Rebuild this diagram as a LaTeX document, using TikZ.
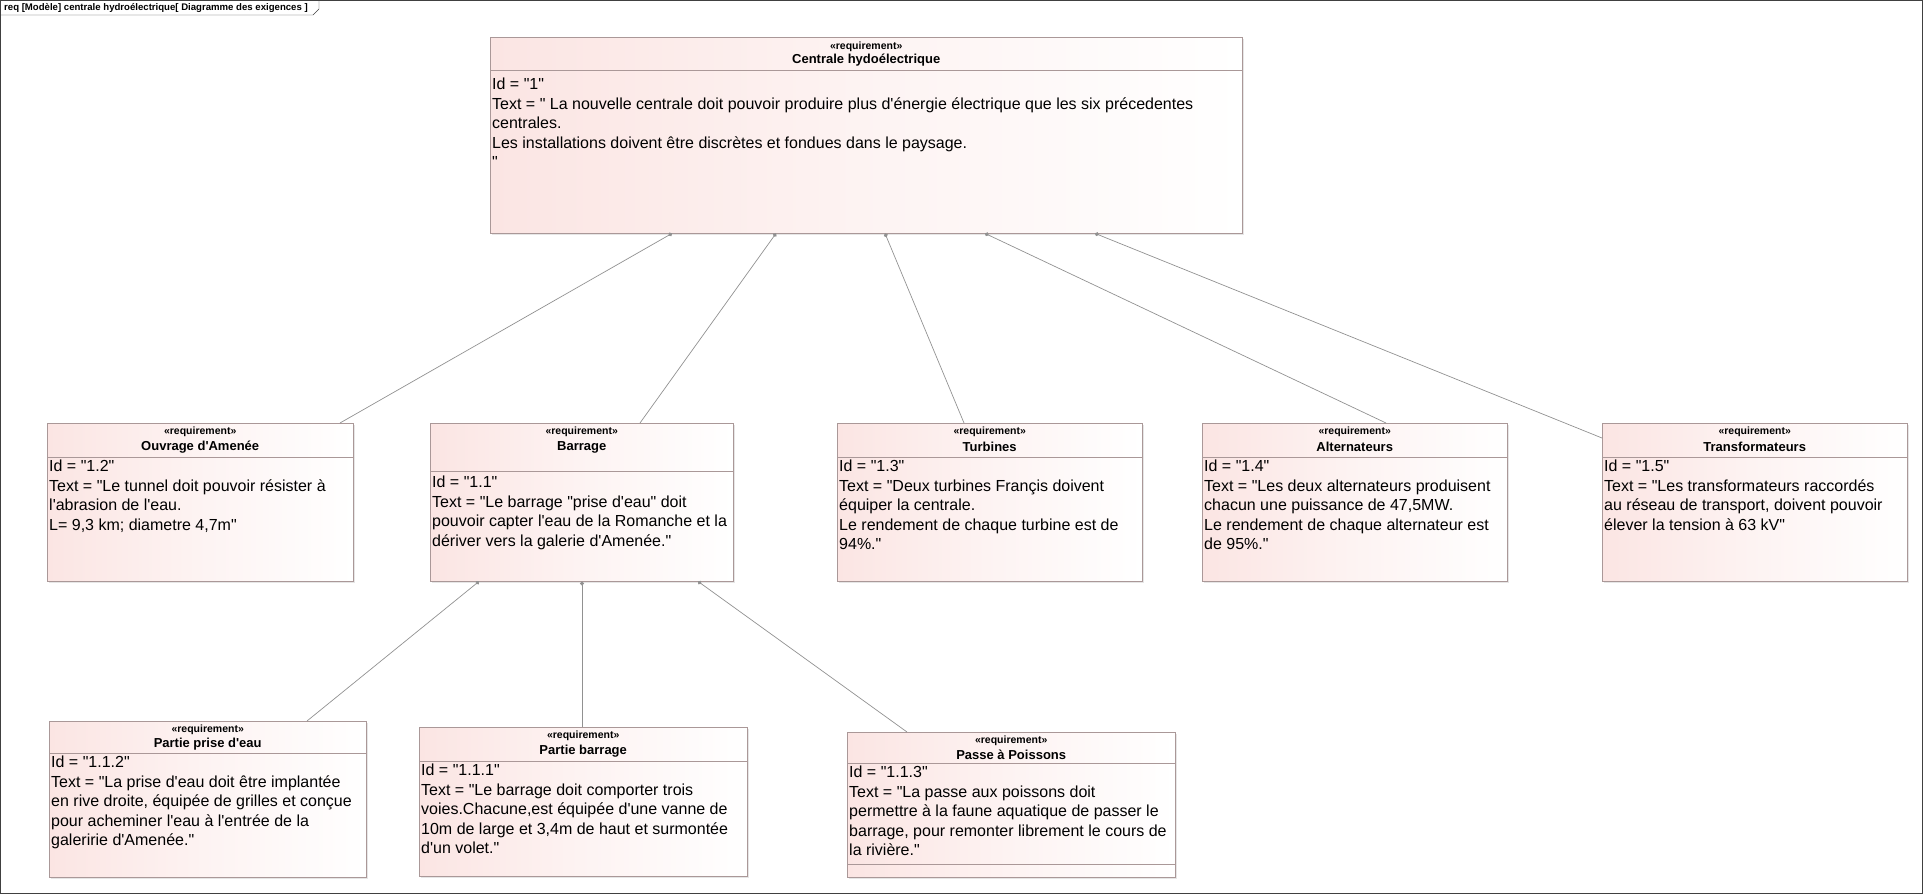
\documentclass[tikz,border=0pt]{standalone}
\usepackage{fontspec}
\setmainfont{Liberation Sans}[Ligatures=TeXOff]
\usetikzlibrary{shadows,arrows.meta}
\definecolor{reqpink}{RGB}{251,229,227}
\definecolor{reqborder}{RGB}{170,152,152}
\definecolor{linkgray}{RGB}{145,145,145}

\begin{document}
\begin{tikzpicture}[x=1pt,y=-1pt,
    req/.style={draw=reqborder, left color=reqpink, right color=white, middle color=reqpink!45!white,
      anchor=north west, inner sep=0pt,
      drop shadow={shadow xshift=1.5pt, shadow yshift=-1.5pt, opacity=0.2}},
    reqsep/.style={draw=reqborder},
    reqstereo/.style={font=\bfseries\fontsize{10.5}{12}\selectfont, inner sep=0pt},
    reqname/.style={font=\bfseries\fontsize{13}{15}\selectfont, inner sep=0pt},
    reqbody/.style={anchor=north west, align=left, inner sep=0pt, font=\fontsize{16}{19.5}\selectfont},
    reqlink/.style={draw=linkgray, line width=0.7pt, {Circle[length=4pt,fill=linkgray]}-}]
  \useasboundingbox (0,0) rectangle (1923,894);
  % frame
  \draw[black!75] (0.5,0.5) rectangle (1922.5,893.5);
  \draw[black!75] (0.5,15) -- (313,15) -- (319,9) -- (319,0.5);
  \node[anchor=west, inner sep=0pt, font=\bfseries\fontsize{9.6}{11}\selectfont] (tab) at (4,8)
    {req [Modèle] centrale hydroélectrique[ Diagramme des exigences ]};

  % top requirement
  \node[req, minimum width=752pt, minimum height=196pt] (top) at (490,37) {};
  \draw[reqsep] ([yshift=-33pt]top.north west) -- ([yshift=-33pt]top.north east);
  \node[reqstereo] at ([yshift=-10pt]top.north) {«requirement»};
  \node[reqname] at ([yshift=-23pt]top.north) {Centrale hydoélectrique};
  \node[reqbody] at ([xshift=2pt,yshift=-41pt]top.north west) {Id = "1"\\Text = " La nouvelle centrale doit pouvoir produire plus d'énergie électrique que les six précedentes\\centrales.\\Les installations doivent être discrètes et fondues dans le paysage.\\"};

  % second level
  \node[req, minimum width=306pt, minimum height=158pt] (ouv) at (47,423) {};
  \draw[reqsep] ([yshift=-34pt]ouv.north west) -- ([yshift=-34pt]ouv.north east);
  \node[reqstereo] at ([yshift=-9pt]ouv.north) {«requirement»};
  \node[reqname] at ([yshift=-24pt]ouv.north) {Ouvrage d'Amenée};
  \node[reqbody] at ([xshift=2pt,yshift=-37pt]ouv.north west) {Id = "1.2"\\Text = "Le tunnel doit pouvoir résister à\\l'abrasion de l'eau.\\L= 9,3 km; diametre 4,7m"};

  \node[req, minimum width=303pt, minimum height=158pt] (bar) at (430,423) {};
  \draw[reqsep] ([yshift=-48pt]bar.north west) -- ([yshift=-48pt]bar.north east);
  \node[reqstereo] at ([yshift=-9pt]bar.north) {«requirement»};
  \node[reqname] at ([yshift=-24pt]bar.north) {Barrage};
  \node[reqbody] at ([xshift=2pt,yshift=-53pt]bar.north west) {Id = "1.1"\\Text = "Le barrage "prise d'eau" doit\\pouvoir capter l'eau de la Romanche et la\\dériver vers la galerie d'Amenée."};

  \node[req, minimum width=305pt, minimum height=158pt] (tur) at (837,423) {};
  \draw[reqsep] ([yshift=-34pt]tur.north west) -- ([yshift=-34pt]tur.north east);
  \node[reqstereo] at ([yshift=-9pt]tur.north) {«requirement»};
  \node[reqname] at ([yshift=-24pt]tur.north) {Turbines};
  \node[reqbody] at ([xshift=2pt,yshift=-37pt]tur.north west) {Id = "1.3"\\Text = "Deux turbines Françis doivent\\équiper la centrale.\\Le rendement de chaque turbine est de\\94\%."};

  \node[req, minimum width=305pt, minimum height=158pt] (alt) at (1202,423) {};
  \draw[reqsep] ([yshift=-34pt]alt.north west) -- ([yshift=-34pt]alt.north east);
  \node[reqstereo] at ([yshift=-9pt]alt.north) {«requirement»};
  \node[reqname] at ([yshift=-24pt]alt.north) {Alternateurs};
  \node[reqbody] at ([xshift=2pt,yshift=-37pt]alt.north west) {Id = "1.4"\\Text = "Les deux alternateurs produisent\\chacun une puissance de 47,5MW.\\Le rendement de chaque alternateur est\\de 95\%."};

  \node[req, minimum width=305pt, minimum height=158pt] (tra) at (1602,423) {};
  \draw[reqsep] ([yshift=-34pt]tra.north west) -- ([yshift=-34pt]tra.north east);
  \node[reqstereo] at ([yshift=-9pt]tra.north) {«requirement»};
  \node[reqname] at ([yshift=-24pt]tra.north) {Transformateurs};
  \node[reqbody] at ([xshift=2pt,yshift=-37pt]tra.north west) {Id = "1.5"\\Text = "Les transformateurs raccordés\\au réseau de transport, doivent pouvoir\\élever la tension à 63 kV"};

  % third level
  \node[req, minimum width=317pt, minimum height=156pt] (pri) at (49,721) {};
  \draw[reqsep] ([yshift=-32pt]pri.north west) -- ([yshift=-32pt]pri.north east);
  \node[reqstereo] at ([yshift=-9pt]pri.north) {«requirement»};
  \node[reqname] at ([yshift=-23pt]pri.north) {Partie prise d'eau};
  \node[reqbody] at ([xshift=2pt,yshift=-35pt]pri.north west) {Id = "1.1.2"\\Text = "La prise d'eau doit être implantée\\en rive droite, équipée de grilles et conçue\\pour acheminer l'eau à l'entrée de la\\galeririe d'Amenée."};

  \node[req, minimum width=328pt, minimum height=149pt] (pba) at (419,727) {};
  \draw[reqsep] ([yshift=-34pt]pba.north west) -- ([yshift=-34pt]pba.north east);
  \node[reqstereo] at ([yshift=-9pt]pba.north) {«requirement»};
  \node[reqname] at ([yshift=-24pt]pba.north) {Partie barrage};
  \node[reqbody] at ([xshift=2pt,yshift=-37pt]pba.north west) {Id = "1.1.1"\\Text = "Le barrage doit comporter trois\\voies.Chacune,est équipée d'une vanne de\\10m de large et 3,4m de haut et surmontée\\d'un volet."};

  \node[req, minimum width=328pt, minimum height=145pt] (pas) at (847,732) {};
  \draw[reqsep] ([yshift=-31pt]pas.north west) -- ([yshift=-31pt]pas.north east);
  \draw[reqsep] ([yshift=13pt]pas.south west) -- ([yshift=13pt]pas.south east);
  \node[reqstereo] at ([yshift=-9pt]pas.north) {«requirement»};
  \node[reqname] at ([yshift=-23pt]pas.north) {Passe à Poissons};
  \node[reqbody] at ([xshift=2pt,yshift=-34pt]pas.north west) {Id = "1.1.3"\\Text = "La passe aux poissons doit\\permettre à la faune aquatique de passer le\\barrage, pour remonter librement le cours de\\la rivière."};

  % containment links
  \draw[reqlink] ([xshift=182pt]top.south west) -- ([xshift=293pt]ouv.north west);
  \draw[reqlink] ([xshift=286pt]top.south west) -- ([xshift=210pt]bar.north west);
  \draw[reqlink] ([xshift=395pt]top.south west) -- ([xshift=127pt]tur.north west);
  \draw[reqlink] ([xshift=495pt]top.south west) -- ([xshift=184pt]alt.north west);
  \draw[reqlink] ([xshift=605pt]top.south west) -- ([yshift=-15pt]tra.north west);
  \draw[reqlink] ([xshift=49pt]bar.south west) -- ([xshift=258pt]pri.north west);
  \draw[reqlink] ([xshift=152pt]bar.south west) -- ([xshift=163pt]pba.north west);
  \draw[reqlink] ([xshift=268pt]bar.south west) -- ([xshift=60pt]pas.north west);
\end{tikzpicture}
\end{document}
